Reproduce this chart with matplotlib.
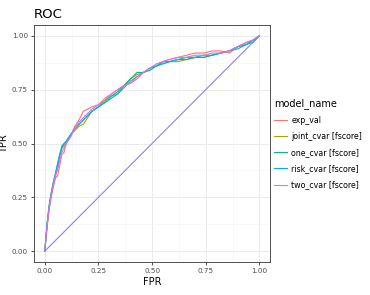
import matplotlib
matplotlib.use("Agg")
import matplotlib.pyplot as plt
import numpy as np

# ROC curves
fpr = [0.0, 0.01, 0.02, 0.03, 0.04, 0.05, 0.06, 0.07, 0.08, 0.09, 0.10, 0.12, 0.14,
       0.16, 0.18, 0.20, 0.22, 0.25, 0.28, 0.31, 0.34, 0.37, 0.40, 0.43, 0.46,
       0.49, 0.52, 0.55, 0.58, 0.62, 0.66, 0.70, 0.74, 0.78, 0.82, 0.86, 0.90,
       0.94, 0.97, 1.0]
tpr_exp_val = [0.0, 0.10, 0.19, 0.25, 0.30, 0.34, 0.35, 0.40, 0.45, 0.46, 0.50, 0.53, 0.58,
               0.61, 0.65, 0.66, 0.67, 0.68, 0.70, 0.73, 0.75, 0.77, 0.78, 0.80, 0.83,
               0.85, 0.86, 0.88, 0.89, 0.90, 0.91, 0.92, 0.92, 0.93, 0.93, 0.92, 0.95,
               0.97, 0.98, 1.0]
tpr_joint = [0.0, 0.11, 0.20, 0.26, 0.31, 0.35, 0.39, 0.44, 0.48, 0.49, 0.51, 0.54, 0.56,
             0.58, 0.59, 0.62, 0.65, 0.67, 0.70, 0.72, 0.73, 0.77, 0.80, 0.82, 0.83,
             0.85, 0.86, 0.87, 0.88, 0.88, 0.89, 0.90, 0.90, 0.91, 0.92, 0.93, 0.95,
             0.96, 0.98, 1.0]
tpr_one = [0.0, 0.12, 0.21, 0.27, 0.32, 0.36, 0.40, 0.45, 0.48, 0.50, 0.51, 0.54, 0.57,
           0.59, 0.61, 0.63, 0.65, 0.67, 0.69, 0.72, 0.74, 0.77, 0.80, 0.83, 0.83,
           0.84, 0.86, 0.88, 0.88, 0.89, 0.89, 0.90, 0.90, 0.91, 0.92, 0.93, 0.95,
           0.96, 0.98, 1.0]
tpr_risk = [0.0, 0.12, 0.21, 0.27, 0.32, 0.36, 0.41, 0.45, 0.49, 0.50, 0.51, 0.54, 0.57,
            0.59, 0.61, 0.63, 0.65, 0.67, 0.69, 0.71, 0.73, 0.76, 0.79, 0.81, 0.83,
            0.85, 0.86, 0.87, 0.88, 0.89, 0.90, 0.90, 0.91, 0.91, 0.92, 0.93, 0.94,
            0.96, 0.97, 1.0]
tpr_two = [0.0, 0.11, 0.20, 0.26, 0.31, 0.35, 0.38, 0.42, 0.46, 0.48, 0.50, 0.53, 0.57,
           0.60, 0.62, 0.64, 0.66, 0.68, 0.71, 0.73, 0.75, 0.77, 0.78, 0.81, 0.83,
           0.85, 0.87, 0.88, 0.89, 0.90, 0.90, 0.91, 0.91, 0.92, 0.92, 0.93, 0.95,
           0.97, 0.98, 1.0]

model_names = ["exp_val", "joint_cvar [fscore]", "one_cvar [fscore]",
               "risk_cvar [fscore]", "two_cvar [fscore]"]
colors = ["#F8766D", "#A3A500", "#00BF7D", "#00B0F6", "#E76BF3"]
series = [tpr_exp_val, tpr_joint, tpr_one, tpr_risk, tpr_two]

ticks = [0.0, 0.25, 0.5, 0.75, 1.0]
tick_labels = ["0.00", "0.25", "0.50", "0.75", "1.00"]

fig = plt.figure(figsize=(3.7, 2.95), dpi=100)
ax = fig.add_axes([0.092, 0.112, 0.638, 0.803])

# diagonal reference
ax.plot([0, 1], [0, 1], color="#8F7FEE", lw=0.8, zorder=2)
for name, col, tpr in zip(model_names, colors, series):
    ax.plot(fpr, tpr, color=col, lw=0.8, label=name, zorder=3)

ax.set_xlim(-0.05, 1.05)
ax.set_ylim(-0.05, 1.05)
ax.set_xticks(ticks)
ax.set_yticks(ticks)
ax.set_xticklabels(tick_labels)
ax.set_yticklabels(tick_labels)
ax.set_xticks([0.125, 0.375, 0.625, 0.875], minor=True)
ax.set_yticks([0.125, 0.375, 0.625, 0.875], minor=True)
ax.grid(True, which="major", color="#EBEBEB", lw=0.7, zorder=0)
ax.grid(True, which="minor", color="#F4F4F4", lw=0.4, zorder=0)
ax.set_axisbelow(True)
ax.tick_params(which="major", length=2.5, width=0.6, color="#333333",
               labelsize=5.2, labelcolor="#4D4D4D", pad=2)
ax.tick_params(which="minor", length=0)
for s in ax.spines.values():
    s.set_color("#333333")
    s.set_linewidth(0.6)

ax.set_xlabel("FPR", fontsize=7, labelpad=2)
ax.set_ylabel("TPR", fontsize=7)
ax.yaxis.set_label_coords(-0.108, 0.5)
ax.set_title("ROC", fontsize=9.5, loc="left", pad=5)

leg = ax.legend(loc="center left", bbox_to_anchor=(1.0, 0.5), frameon=False,
                fontsize=5.7, title="model_name", title_fontsize=7,
                handlelength=1.6, labelspacing=0.9, borderaxespad=0.1,
                handletextpad=0.6)
leg._legend_box.align = "left"

fig.savefig("out.png", dpi=100)
